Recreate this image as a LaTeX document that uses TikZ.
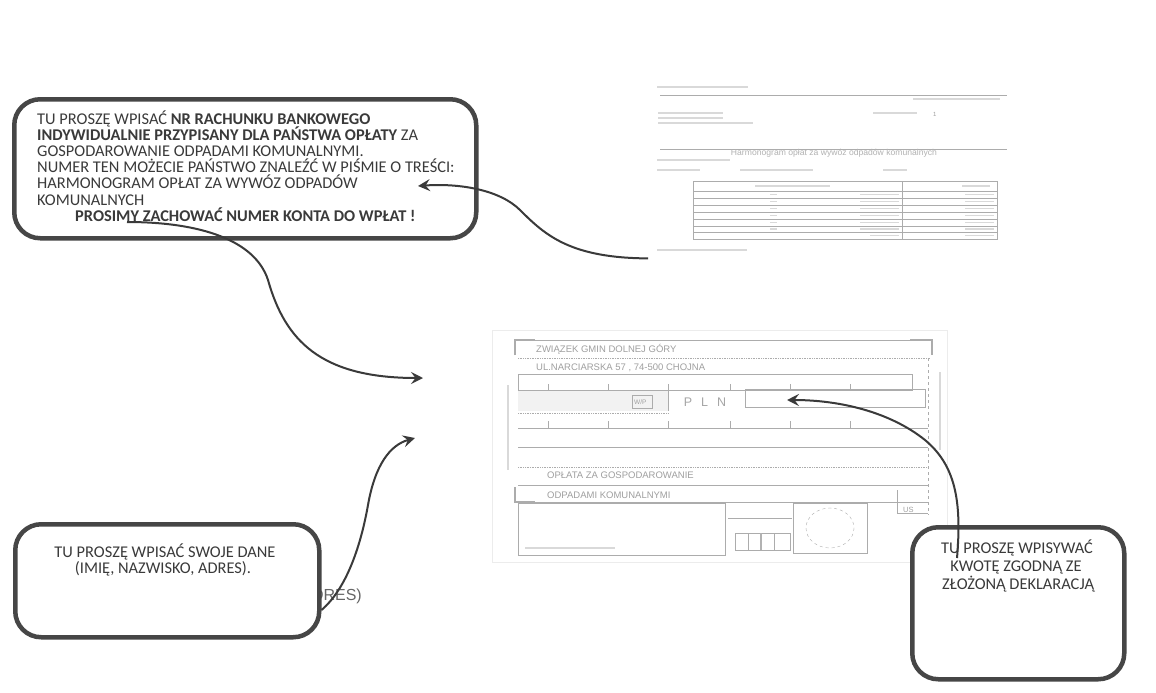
\documentclass[tikz,border=0pt]{standalone}
\usepackage{fontspec}
\setmainfont{Carlito}
\newfontfamily\formfont{Liberation Sans}
\usetikzlibrary{arrows.meta}

\definecolor{ink}{RGB}{58,58,58}
\definecolor{rim}{RGB}{70,70,70}
\definecolor{faint}{RGB}{172,172,172}

\tikzset{
  callout/.style={draw=rim, line width=4.5pt, rounded corners=26pt, fill=white, anchor=north west, inner sep=0pt},
  note/.style={text=ink, font=\fontsize{16.4}{16.2}\selectfont, inner sep=0pt},
  pointer/.style={draw=ink, line width=2pt, -{Stealth[length=12pt,width=12pt,inset=4.5pt]}},
  formline/.style={draw=faint, line width=0.7pt},
  formtext/.style={text=gray!75, font=\formfont\fontsize{9.5}{10}\selectfont, inner sep=0pt, anchor=base west},
  smudge/.style={draw=gray!30, line width=2pt},
}

\begin{document}
\begin{tikzpicture}[x=1pt,y=-1pt]
\useasboundingbox (0,0) rectangle (1156,693);
\fill[white] (0,0) rectangle (1156,693);

% harmonogram
\node[anchor=north west, minimum width=360pt, minimum height=178pt, inner sep=0pt] (harm) at (648,80) {};
\draw[smudge] (657,87) -- (748,87);
\draw[formline] (660,95) -- (1007,95);
\draw[smudge] (913,99) -- (1000,99);
\foreach \y/\l in {113/723,118/723,123/753} {\draw[smudge, line width=1.5pt] (658,\y) -- (\l,\y);}
\draw[smudge] (873,113) -- (917,113);
\node[formtext, font=\formfont\fontsize{6}{6}\selectfont] (harmNo) at (933,116) {1};
\draw[formline] (660,149) -- (1007,149);
\node[text=gray!60, font=\formfont\fontsize{8.6}{9}\selectfont, inner sep=0pt] (harmTitle) at (834,153) {Harmonogram opłat za wywóz odpadów komunalnych};
\draw[smudge, line width=1.5pt] (657,160) -- (730,160);
\draw[smudge, line width=1.5pt] (657,170) -- (700,170);
\draw[smudge, line width=1.5pt] (740,170) -- (813,170);
\draw[smudge, line width=1.5pt] (883,170) -- (907,170);
\draw[formline] (693,181) rectangle (997,239);
\draw[formline] (902,181) -- (902,239);
\foreach \y in {191,198,205,212,219,226,232} {\draw[formline] (693,\y) -- (997,\y);}
\draw[smudge, line width=1.5pt] (755,186) -- (830,186);
\draw[smudge, line width=1.5pt] (962,186) -- (990,186);
\foreach \y in {194.5,201.5,208.5,215.5,222.5,229} {
  \draw[smudge, line width=1.5pt] (770,\y) -- (777,\y);
  \draw[smudge, line width=1.5pt] (860,\y) -- (899,\y);
  \draw[smudge, line width=1.5pt] (965,\y) -- (994,\y);
}
\draw[smudge, line width=1.5pt] (870,235.5) -- (899,235.5);
\draw[smudge, line width=1.5pt] (965,235.5) -- (994,235.5);
\draw[smudge, line width=1.5pt] (657,250) -- (747,250);

% blankiet
\node[anchor=north west, minimum width=455pt, minimum height=232pt, inner sep=0pt] (form) at (492,330) {};
\draw[gray!15] (form.north west) rectangle (form.south east);
\draw[gray!65, line width=1.3pt] (515,355) -- (515,340) -- (535,340);
\draw[gray!65, line width=1.3pt] (910,340) -- (932,340) -- (932,355);
\draw[gray!65, line width=1.3pt] (515,487) -- (515,502) -- (535,502);
\draw[formline] (535,340) -- (910,340);
\node[formtext] (payeeName) at (536,352) {ZWIĄZEK GMIN DOLNEJ GÓRY};
\draw[formline, densely dotted] (518,358) -- (930,358);
\node[formtext] (payeeStreet) at (536,370) {UL.NARCIARSKA 57 , 74-500 CHOJNA};
\draw[formline, line width=1pt] (518,374) rectangle (912,390);
\foreach \x in {548,608,668,730,790,850} {\draw[formline] (\x,384) -- (\x,390);}
\fill[gray!10] (518,391) rectangle (668,411);
\draw[formline] (632,395) rectangle (652,408);
\node[formtext, font=\formfont\fontsize{6.5}{7}\selectfont] (wp) at (634,404.5) {W/P};
\draw[formline] (668,390) -- (668,411);
\node[text=gray!70, font=\formfont\fontsize{12.5}{12}\selectfont, inner sep=0pt] (curr) at (705,402) {P\hspace{9pt}L\hspace{9pt}N};
\draw[formline, line width=1pt] (745,389) rectangle (925,407);
\draw[formline, densely dotted] (518,413) -- (668,413);
\foreach \x in {548,608,668,730,790,850} {\draw[formline] (\x,421) -- (\x,428);}
\draw[formline] (518,428) -- (928,428);
\draw[formline] (518,447) -- (928,447);
\draw[formline, densely dotted] (518,467) -- (928,467);
\node[formtext] (titleA) at (547,478) {OPŁATA ZA GOSPODAROWANIE};
\draw[formline] (518,485) -- (928,485);
\node[formtext] (titleB) at (547,498) {ODPADAMI KOMUNALNYMI};
\draw[formline] (535,502) -- (928,502);
\draw[formline, dashed] (928,358) -- (928,515);
\draw[formline] (897,490) -- (897,513) -- (928,513);
\node[formtext, font=\formfont\fontsize{7.5}{8}\selectfont] (us) at (903,512) {US};
\draw[smudge, line width=1.5pt] (508,385) -- (508,470);
\draw[smudge, line width=1.5pt] (940,372) -- (940,450);
\draw[formline] (518,503) rectangle (725,555);
\draw[smudge, line width=1.2pt] (525,548) -- (615,548);
\draw[formline] (728,518) -- (792,518);
\draw[formline] (735,533) rectangle (790,550);
\foreach \x in {748,774} {\draw[formline] (\x,533) -- (\x,550);}
\draw[gray!60, line width=1.2pt] (761,533) -- (761,550);
\draw[formline] (793,503) rectangle (867,553);
\draw[faint, dashed] (830,528) ellipse (24 and 20);

% dymki
\node[callout, minimum width=462pt, minimum height=139pt] (boxAccount) at (12,97) {};
\foreach \ln [count=\i] in {
  {TU PROSZĘ WPISAĆ \textbf{NR RACHUNKU BANKOWEGO}},
  {\textbf{INDYWIDUALNIE PRZYPISANY DLA PAŃSTWA OPŁATY} ZA},
  {GOSPODAROWANIE ODPADAMI KOMUNALNYMI.},
  {NUMER TEN MOŻECIE PAŃSTWO ZNALEŹĆ W PIŚMIE O TREŚCI:},
  {HARMONOGRAM OPŁAT ZA WYWÓZ ODPADÓW},
  {KOMUNALNYCH}}
  {\node[note, anchor=base west] (acc\i) at (37,107.8+16.2*\i) {\ln};}
\node[note, anchor=base west, font=\bfseries\fontsize{16.4}{16.2}\selectfont] (acc7) at (75,221) {PROSIMY ZACHOWAĆ NUMER KONTA DO WPŁAT !};

\node[text=gray!80!black, font=\formfont\fontsize{16}{16}\selectfont, inner sep=0pt, anchor=base east] (oldAddr) at (362,600) {ADRES)};
\node[callout, minimum width=304pt, minimum height=113pt] (boxData) at (13,522) {};
\node[note, anchor=base] (data1) at (165,557) {TU PROSZĘ WPISAĆ SWOJE DANE};
\node[note, anchor=base] (data2) at (163,573) {(IMIĘ, NAZWISKO, ADRES).};

\node[callout, minimum width=212pt, minimum height=152pt] (boxAmount) at (910,525) {};
\node[note, anchor=base] (amount1) at (1017,553) {TU PROSZĘ WPISYWAĆ};
\node[note, anchor=base] (amount2) at (1016,571) {KWOTĘ ZGODNĄ ZE};
\node[note, anchor=base] (amount3) at (1018,589) {ZŁOŻONĄ DEKLARACJĄ};

% strzalki
\coordinate (accTip) at (418,186);
\coordinate (accTail) at (127,222);
\coordinate (formTipA) at (423,378);
\coordinate (dataTail) at (boxData.east |- 0,610);
\coordinate (formTipB) at (415,438);
\coordinate (amountTail) at (957,558);
\coordinate (amountTip) at (787,400);

\draw[pointer] (harm.south west) .. controls (570,258) and (545,235) .. (520,210) .. controls (500,190) and (460,183) .. (accTip);
\draw[pointer] (accTail) .. controls (200,222) and (255,240) .. (268,280) .. controls (285,340) and (320,378) .. (formTipA);
\draw[pointer] (dataTail) .. controls (345,590) and (360,550) .. (368,505) .. controls (375,465) and (390,445) .. (formTipB);
\draw[pointer] (amountTail) .. controls (962,500) and (955,465) .. (925,440) .. controls (890,412) and (840,400) .. (amountTip);

\end{tikzpicture}
\end{document}
